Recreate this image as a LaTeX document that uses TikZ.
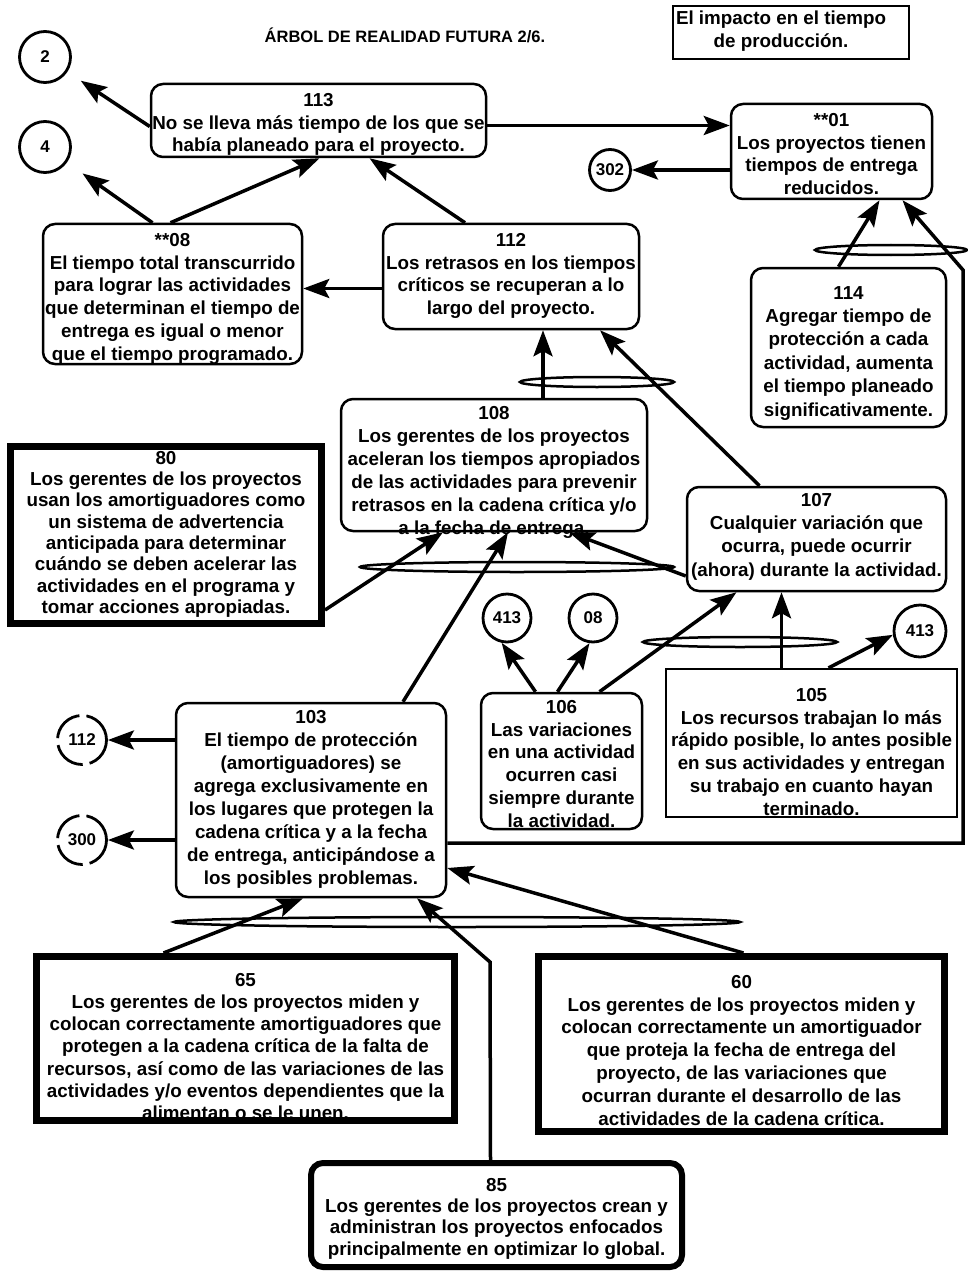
\documentclass[tikz,border=0pt]{standalone}
\usepackage{fontspec}
\setmainfont{Liberation Sans}
\usetikzlibrary{arrows.meta,calc}

\begin{document}
\begin{tikzpicture}[x=1pt,y=-1pt,
  rbox/.style={draw, line width=2.5pt, rounded corners=12pt, inner sep=0pt},
  sbox/.style={draw, line width=2.2pt, inner sep=0pt},
  tbox/.style={draw, line width=7pt, inner sep=0pt},
  trbox/.style={draw, line width=6pt, rounded corners=12pt, inner sep=0pt},
  txt/.style={anchor=north, align=center, inner sep=0pt, font=\bfseries\fontsize{18.8}{22.8}\selectfont},
  ref/.style={draw, circle, line width=2.8pt, inner sep=0pt, font=\bfseries\fontsize{17}{20}\selectfont},
  dref/.style={ref, dash pattern=on 34pt off 7pt},
  arr/.style={line width=3.5pt, -{Stealth[length=26pt,width=19pt,inset=5pt]}},
  andring/.style={line width=2.5pt}]

\fill[white] (0,0) rectangle (967,1273);
\useasboundingbox (0,0) rectangle (967,1273);

% heading and subject box
\node[txt, font=\bfseries\fontsize{16.5}{20}\selectfont] (title) at (405,28) {ÁRBOL DE REALIDAD FUTURA 2/6.};
\node[sbox, minimum width=236, minimum height=53] (bimp) at (791,32.5) {};
\node[txt] (timp) at (781,11) {El impacto en el tiempo\\de producción.};

% entity boxes
\node[rbox, minimum width=335, minimum height=73] (b113) at (318.5,120.5) {};
\node[txt] (t113) at (318.5,93) {113\\No se lleva más tiempo de los que se\\había planeado para el proyecto.};

\node[rbox, minimum width=201, minimum height=95] (b01) at (831.5,151.5) {};
\node[txt] (t01) at (831.5,113) {**01\\Los proyectos tienen\\tiempos de entrega\\reducidos.};

\node[rbox, minimum width=259, minimum height=140] (b08) at (172.5,294) {};
\node[txt] (t08) at (172.5,233) {**08\\El tiempo total transcurrido\\para lograr las actividades\\que determinan el tiempo de\\entrega es igual o menor\\que el tiempo programado.};

\node[rbox, minimum width=256, minimum height=105] (b112) at (511,276.5) {};
\node[txt] (t112) at (511,233) {112\\Los retrasos en los tiempos\\críticos se recuperan a lo\\largo del proyecto.};

\node[rbox, minimum width=195, minimum height=159] (b114) at (848.5,347.5) {};
\node[txt, font=\bfseries\fontsize{18.8}{23.4}\selectfont] (t114) at (848.5,286) {114\\Agregar tiempo de\\protección a cada\\actividad, aumenta\\el tiempo planeado\\significativamente.};

\node[rbox, minimum width=306, minimum height=132] (b108) at (494,465) {};
\node[txt, font=\bfseries\fontsize{18.8}{23}\selectfont] (t108) at (494,406) {108\\Los gerentes de los proyectos\\aceleran los tiempos apropiados\\de las actividades para prevenir\\retrasos en la cadena crítica y/o\\a la fecha de entrega.};

\node[rbox, minimum width=259, minimum height=104] (b107) at (816.5,539) {};
\node[txt, font=\bfseries\fontsize{18.8}{23.3}\selectfont] (t107) at (816.5,493) {107\\Cualquier variación que\\ocurra, puede ocurrir\\(ahora) durante la actividad.};

\node[tbox, minimum width=311, minimum height=177] (b80) at (166,535) {};
\node[txt, font=\bfseries\fontsize{18.8}{21.3}\selectfont] (t80) at (166,451) {80\\Los gerentes de los proyectos\\usan los amortiguadores como\\un sistema de advertencia\\anticipada para determinar\\cuándo se deben acelerar las\\actividades en el programa y\\tomar acciones apropiadas.};

\node[rbox, minimum width=270, minimum height=194] (b103) at (311,800) {};
\node[txt, font=\bfseries\fontsize{18.8}{23}\selectfont] (t103) at (311,710) {103\\El tiempo de protección\\(amortiguadores) se\\agrega exclusivamente en\\los lugares que protegen la\\cadena crítica y a la fecha\\de entrega, anticipándose a\\los posibles problemas.};

\node[rbox, minimum width=161, minimum height=136] (b106) at (561.5,761) {};
\node[txt] (t106) at (561.5,700) {106\\Las variaciones\\en una actividad\\ocurren casi\\siempre durante\\la actividad.};

\node[sbox, minimum width=291, minimum height=148] (b105) at (811.5,743) {};
\node[txt] (t105) at (811.5,688) {105\\Los recursos trabajan lo más\\rápido posible, lo antes posible\\en sus actividades y entregan\\su trabajo en cuanto hayan\\terminado.};

\node[tbox, minimum width=418, minimum height=164] (b65) at (245.5,1038.5) {};
\node[txt, font=\bfseries\fontsize{18.8}{22.2}\selectfont] (t65) at (245.5,973) {65\\Los gerentes de los proyectos miden y\\colocan correctamente amortiguadores que\\protegen a la cadena crítica de la falta de\\recursos, así como de las variaciones de las\\actividades y/o eventos dependientes que la\\alimentan o se le unen.};

\node[tbox, minimum width=406, minimum height=175] (b60) at (741.5,1044) {};
\node[txt] (t60) at (741.5,975) {60\\Los gerentes de los proyectos miden y\\colocan correctamente un amortiguador\\que proteja la fecha de entrega del\\proyecto, de las variaciones que\\ocurran durante el desarrollo de las\\actividades de la cadena crítica.};

\node[trbox, minimum width=371, minimum height=104] (b85) at (496.5,1215) {};
\node[txt, font=\bfseries\fontsize{18.8}{21.3}\selectfont] (t85) at (496.5,1178) {85\\Los gerentes de los proyectos crean y\\administran los proyectos enfocados\\principalmente en optimizar lo global.};

% page references
\node[ref, minimum size=51] (c2) at (45,57) {2};
\node[ref, minimum size=51] (c4) at (45,147) {4};
\node[ref, minimum size=41] (c302) at (610,170) {302};
\node[dref, minimum size=49] (c112) at (82,740) {112};
\node[dref, minimum size=49] (c300) at (82,840) {300};
\node[ref, minimum size=48] (c413a) at (507,618) {413};
\node[ref, minimum size=48] (c08) at (593,618) {08};
\node[ref, minimum size=52] (c413b) at (920,631) {413};

% bends of the long connectors
\coordinate (r1) at (963,843);
\coordinate (r2) at (963,270);
\coordinate (k85) at (490,962);

% connectors
\draw[arr, shorten >=16pt] ($(b113.west)+(0,6)$) -- (c2);
\draw[arr, shorten >=19pt] ($(b08.north)+(-20,0)$) -- (c4);
\draw[arr] ($(b08.north)+(-2,0)$) -- ($(b113.south)+(1,0)$);
\draw[arr] ($(b112.north)+(-46,0)$) -- ($(b113.south)+(51,0)$);
\draw[arr] ($(b113.east)+(0,5)$) coordinate (p1) -- (p1 -| b01.west);
\draw[arr] (c302 -| b01.west) -- (c302.east);
\draw[arr] ($(b112.west)+(0,12)$) coordinate (p2) -- (p2 -| b08.east);

\draw[arr] ($(b114.north)+(-10,0)$) -- ($(b01.south)+(48,0)$);
\draw[arr] ($(b103.east)+(0,43)$) -- (r1) -- (r2) -- ($(b01.south)+(71,0)$);
\draw[andring] (891,250) ellipse [x radius=76, y radius=5];

\draw[arr] ($(b108.north)+(49,0)$) coordinate (p3) -- (p3 |- b112.south);
\draw[arr] ($(b107.north)+(-57,0)$) -- ($(b112.south)+(89,0)$);
\draw[andring] (597,382) ellipse [x radius=77, y radius=5];

\draw[arr] ($(b80.east)+(0,75)$) -- ($(b108.south)+(-51,0)$);
\draw[arr] ($(b103.north)+(92,0)$) -- ($(b108.south)+(14,0)$);
\draw[arr] ($(b107.west)+(0,37)$) -- ($(b108.south)+(75,0)$);
\draw[andring] (517,567) ellipse [x radius=157, y radius=5];

\draw[arr] ($(b106.north)+(-26,0)$) -- (c413a.258);
\draw[arr] ($(b106.north)+(-4,0)$) -- (c08.262);
\draw[arr] ($(b106.north)+(38,0)$) -- ($(b107.south)+(-80,0)$);
\draw[arr] ($(b105.north)+(-30,0)$) coordinate (p4) -- (p4 |- b107.south);
\draw[arr] ($(b105.north)+(17,0)$) -- (c413b.188);
\draw[andring] (740,642) ellipse [x radius=97, y radius=5];

\draw[arr] (c112 -| b103.west) -- (c112.east);
\draw[arr] (c300 -| b103.west) -- (c300.east);

\draw[arr] ($(b65.north)+(-82,0)$) -- ($(b103.south)+(-8,0)$);
\draw[arr] ($(b85.north)+(-6,0)$) -- (k85) -- ($(b103.south)+(106,0)$);
\draw[arr] ($(b60.north)+(2,0)$) -- ($(b103.east)+(0,68)$);
\draw[andring] (457,922) ellipse [x radius=283, y radius=5];

\end{tikzpicture}
\end{document}
